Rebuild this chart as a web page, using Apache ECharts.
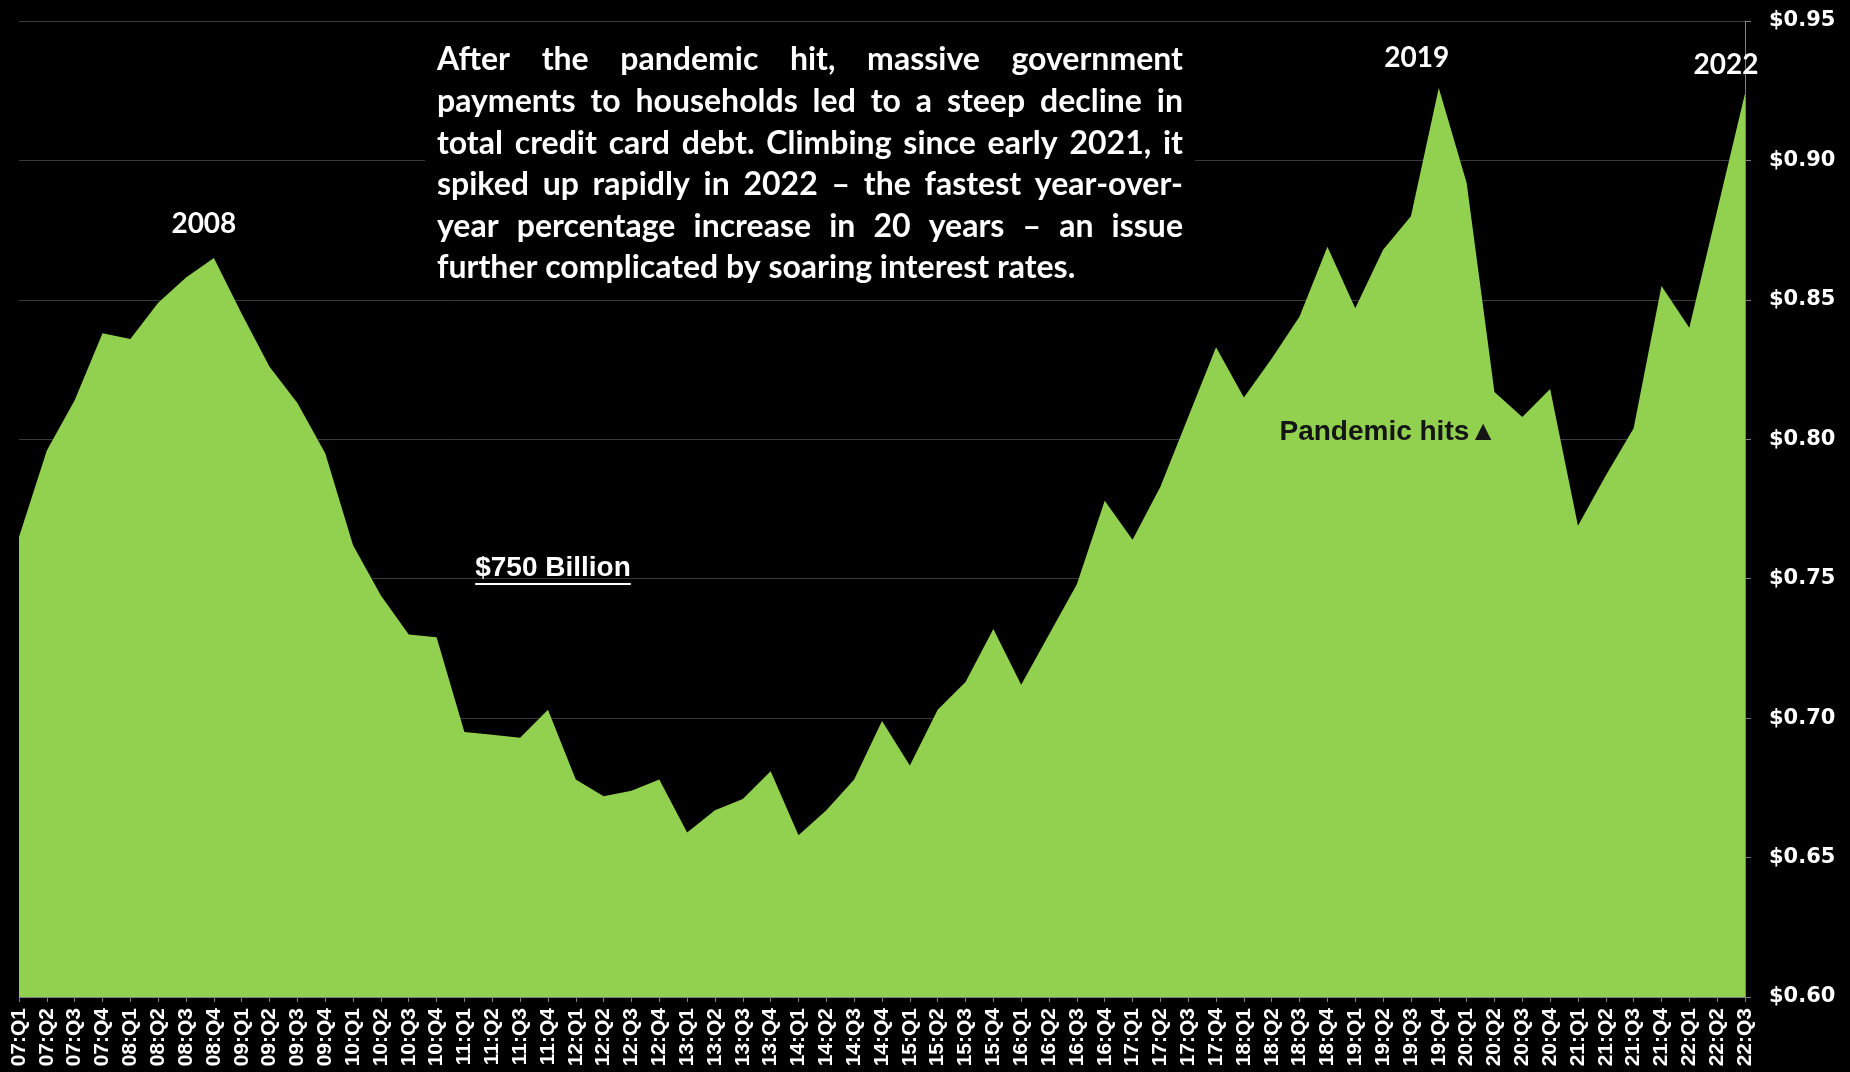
<!DOCTYPE html>
<html>
<head>
<meta charset="utf-8">
<style>
  html, body { margin: 0; padding: 0; background: #000; }
  #chart { width: 1850px; height: 1072px; }
</style>
<script src="https://cdn.jsdelivr.net/npm/echarts@6/dist/echarts.min.js"></script>
</head>
<body>
<div id="chart"></div>
<script>
// Quarter labels, 2007 Q1 through 2022 Q3
const quarters = [
  '07:Q1','07:Q2','07:Q3','07:Q4','08:Q1','08:Q2','08:Q3','08:Q4',
  '09:Q1','09:Q2','09:Q3','09:Q4','10:Q1','10:Q2','10:Q3','10:Q4',
  '11:Q1','11:Q2','11:Q3','11:Q4','12:Q1','12:Q2','12:Q3','12:Q4',
  '13:Q1','13:Q2','13:Q3','13:Q4','14:Q1','14:Q2','14:Q3','14:Q4',
  '15:Q1','15:Q2','15:Q3','15:Q4','16:Q1','16:Q2','16:Q3','16:Q4',
  '17:Q1','17:Q2','17:Q3','17:Q4','18:Q1','18:Q2','18:Q3','18:Q4',
  '19:Q1','19:Q2','19:Q3','19:Q4','20:Q1','20:Q2','20:Q3','20:Q4',
  '21:Q1','21:Q2','21:Q3','21:Q4','22:Q1','22:Q2','22:Q3'
];

// Total credit card debt, trillions of dollars
const debt = [
  0.765, 0.796, 0.814, 0.838, 0.836, 0.849, 0.858, 0.865,
  0.845, 0.826, 0.813, 0.795, 0.762, 0.744, 0.730, 0.729,
  0.695, 0.694, 0.693, 0.703, 0.678, 0.672, 0.674, 0.678,
  0.659, 0.667, 0.671, 0.681, 0.658, 0.667, 0.678, 0.699,
  0.683, 0.703, 0.713, 0.732, 0.712, 0.730, 0.748, 0.778,
  0.764, 0.783, 0.808, 0.833, 0.815, 0.829, 0.844, 0.869,
  0.847, 0.868, 0.880, 0.926, 0.892, 0.817, 0.808, 0.818,
  0.769, 0.787, 0.804, 0.855, 0.840, 0.882, 0.924
];

// Peak callouts
const peakQuarters = ['08:Q4', '19:Q4', '22:Q3'];
const peakTexts = ['2008', '2019', '2022'];
const peakShift = [[-10, 0], [-22, 5], [-19, 6]];

// Y axis range and tick step
const yMin = 0.60, yMax = 0.95, yStep = 0.05;

const noteLines = [
  'After the pandemic hit, massive government',
  'payments to households led to a steep decline in',
  'total credit card debt. Climbing since early 2021, it',
  'spiked up rapidly in 2022 \u2013 the fastest year-over-',
  'year percentage increase in 20 years \u2013 an issue',
  'further complicated by soaring interest rates.'
];
const levelNote = '$750 Billion';
const pandemicNote = 'Pandemic hits\u25B2';

const chart = echarts.init(document.getElementById('chart'), null, { renderer: 'canvas' });

const peakMarks = peakQuarters.map((q, k) => {
  const i = quarters.indexOf(q);
  return {
    coord: [q, debt[i]],
    label: {
      show: true,
      position: 'top',
      distance: 20,
      offset: peakShift[k],
      formatter: peakTexts[k],
      color: '#ffffff',
      fontFamily: 'Lato',
      fontWeight: 'bold',
      fontSize: 28
    }
  };
});

// Measuring context for the justified paragraph
const measureCtx = document.createElement('canvas').getContext('2d');
const noteFont = 'bold 32px Lato';
measureCtx.font = noteFont;

const noteLeft = 437, noteRight = 1183, noteTop = 60, noteLead = 41.6;
const graphics = [];

// Black panel behind the paragraph (hides grid lines)
graphics.push({
  type: 'rect', z: 5,
  shape: { x: 425, y: 30, width: 770, height: 262 },
  style: { fill: '#000000' }
});

noteLines.forEach((line, li) => {
  const y = noteTop + li * noteLead;
  const words = line.split(' ');
  const last = li === noteLines.length - 1;
  const widths = words.map(w => measureCtx.measureText(w).width);
  const spaceW = measureCtx.measureText(' ').width;
  const total = widths.reduce((a, b) => a + b, 0);
  const gap = last ? spaceW : (noteRight - noteLeft - total) / (words.length - 1);
  let x = noteLeft;
  words.forEach((w, wi) => {
    graphics.push({
      type: 'text', z: 6,
      style: {
        text: w, x: x, y: y,
        font: noteFont, fill: '#ffffff',
        textAlign: 'left', textVerticalAlign: 'middle'
      }
    });
    x += widths[wi] + gap;
  });
});

// "$750 Billion" with underline
const levelFont = 'bold 28px "Liberation Sans"';
measureCtx.font = levelFont;
const levelW = measureCtx.measureText(levelNote).width;
graphics.push({
  type: 'text', z: 6,
  style: {
    text: levelNote, x: 553, y: 568, font: levelFont, fill: '#ffffff',
    textAlign: 'center', textVerticalAlign: 'middle'
  }
});
graphics.push({
  type: 'line', z: 6,
  shape: { x1: 553 - levelW / 2, y1: 584, x2: 553 + levelW / 2, y2: 584 },
  style: { stroke: '#ffffff', lineWidth: 2 }
});

// Pandemic marker text on the green area
graphics.push({
  type: 'text', z: 6,
  style: {
    text: pandemicNote, x: 1497, y: 432,
    font: 'bold 28px "Liberation Sans"', fill: '#141414',
    textAlign: 'right', textVerticalAlign: 'middle'
  }
});

const option = {
  backgroundColor: '#000000',
  animation: false,
  grid: { left: 19, right: 105, top: 21, bottom: 75, containLabel: false },
  xAxis: {
    type: 'category',
    data: quarters,
    boundaryGap: false,
    axisLine: { show: true, lineStyle: { color: '#7f7f7f', width: 1 } },
    axisTick: { show: true, alignWithLabel: true, interval: 0, length: 5, lineStyle: { color: '#7f7f7f' } },
    axisLabel: {
      interval: 0,
      rotate: 90,
      margin: 11,
      color: '#ffffff',
      fontFamily: 'Liberation Sans',
      fontWeight: 'bold',
      fontSize: 21
    },
    splitLine: { show: false }
  },
  yAxis: {
    type: 'value',
    position: 'right',
    min: yMin,
    max: yMax,
    interval: yStep,
    axisLine: { show: true, lineStyle: { color: '#7f7f7f', width: 1 } },
    axisTick: { show: true, length: 6, lineStyle: { color: '#7f7f7f' } },
    axisLabel: {
      margin: 24,
      color: '#ffffff',
      fontFamily: 'DejaVu Sans',
      fontWeight: 'bold',
      fontSize: 21,
      formatter: v => '$' + v.toFixed(2)
    },
    splitLine: { show: true, lineStyle: { color: '#3a3a3a', width: 1 } }
  },
  series: [{
    type: 'line',
    data: debt,
    symbol: 'none',
    lineStyle: { width: 0 },
    areaStyle: { color: '#92D050', opacity: 1 },
    z: 3,
    markPoint: {
      symbol: 'circle',
      symbolSize: 1,
      itemStyle: { color: 'rgba(0,0,0,0)' },
      silent: true,
      data: peakMarks
    }
  }],
  graphic: graphics
};

chart.setOption(option);
</script>
</body>
</html>
